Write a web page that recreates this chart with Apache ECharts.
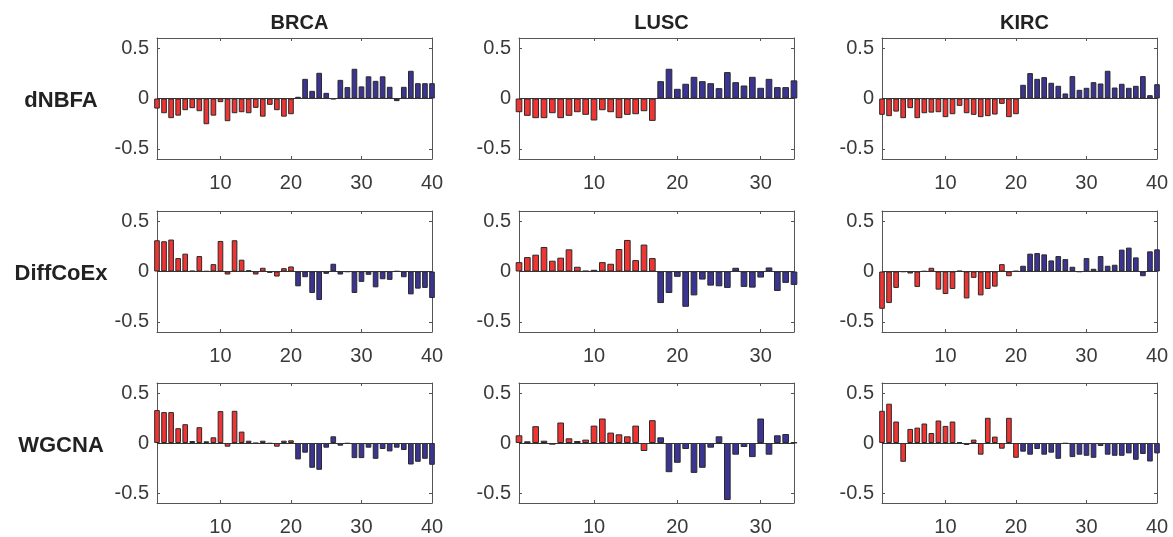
<!DOCTYPE html>
<html>
<head>
<meta charset="utf-8">
<script src="https://cdn.jsdelivr.net/npm/echarts@6/dist/echarts.min.js"></script>
<style>
  html, body { margin: 0; padding: 0; background: #fff; }
  #chart { width: 1173px; height: 537px; }
</style>
</head>
<body>
<div id="chart"></div>
<script>
// columns (datasets) and rows (methods)
const datasets = ['BRCA', 'LUSC', 'KIRC'];
const methods = ['dNBFA', 'DiffCoEx', 'WGCNA'];
const geneCount = [40, 34, 40];
const redCount = [20, 17, 20];
const xTicks = [[10, 20, 30, 40], [10, 20, 30], [10, 20, 30, 40]];
const yTicks = [-0.5, 0, 0.5];

// dNBFA
const brcaDnbfa = [-0.10, -0.146, -0.195, -0.17, -0.116, -0.096, -0.126, -0.255, -0.17, -0.036,
  -0.225, -0.146, -0.136, -0.146, -0.093, -0.18, -0.063, -0.116, -0.18, -0.156,
  0.017, 0.195, 0.076, 0.255, 0.056, -0.007, 0.185, 0.113, 0.295, 0.12,
  0.22, 0.175, 0.22, 0.116, -0.026, 0.116, 0.275, 0.152, 0.152, 0.152];
const luscDnbfa = [-0.136, -0.172, -0.195, -0.195, -0.146, -0.195, -0.172, -0.136, -0.162, -0.218,
  -0.116, -0.136, -0.195, -0.162, -0.156, -0.126, -0.222,
  0.172, 0.295, 0.096, 0.146, 0.215, 0.172, 0.152, 0.103, 0.262,
  0.162, 0.129, 0.215, 0.106, 0.195, 0.113, 0.113, 0.18];
const kircDnbfa = [-0.162, -0.175, -0.13, -0.195, -0.096, -0.195, -0.146, -0.14, -0.136, -0.185,
  -0.156, -0.073, -0.146, -0.162, -0.185, -0.175, -0.159, -0.053, -0.185, -0.156,
  0.136, 0.252, 0.195, 0.212, 0.156, 0.126, 0.05, 0.222, 0.086, 0.106,
  0.162, 0.149, 0.275, 0.109, 0.146, 0.106, 0.126, 0.222, 0.033, 0.142];

// DiffCoEx
const brcaDiffcoex = [0.31, 0.30, 0.317, 0.133, 0.177, 0.007, 0.153, 0.003, 0.073, 0.303,
  -0.03, 0.31, 0.117, 0.013, -0.03, 0.037, -0.013, -0.05, 0.033, 0.05,
  -0.147, -0.057, -0.213, -0.283, -0.023, 0.077, -0.03, -0.003, -0.213, -0.103,
  -0.033, -0.157, -0.077, -0.083, 0.003, -0.057, -0.227, -0.17, -0.163, -0.263];
const luscDiffcoex = [0.093, 0.143, 0.167, 0.243, 0.107, 0.137, 0.22, 0.047, 0.007, 0.017,
  0.093, 0.077, 0.223, 0.313, 0.113, 0.267, 0.133,
  -0.313, -0.213, -0.053, -0.35, -0.237, -0.08, -0.14, -0.147, -0.163,
  0.037, -0.153, -0.16, -0.06, 0.04, -0.193, -0.113, -0.133];
const kircDiffcoex = [-0.37, -0.313, -0.163, -0.003, -0.02, -0.153, 0.003, 0.037, -0.18, -0.223,
  -0.173, 0.007, -0.267, -0.063, -0.237, -0.173, -0.15, 0.073, -0.047, 0.005,
  0.057, 0.177, 0.183, 0.17, 0.11, 0.153, 0.123, 0.047, -0.003, 0.133,
  0.027, 0.153, 0.057, 0.067, 0.217, 0.237, 0.14, -0.047, 0.2, 0.22];

// WGCNA
const brcaWgcna = [0.329, 0.309, 0.309, 0.148, 0.188, 0.02, 0.158, 0.017, 0.057, 0.319,
  -0.037, 0.322, 0.114, 0.023, -0.003, 0.023, -0.007, -0.037, 0.023, 0.027,
  -0.164, -0.097, -0.248, -0.268, -0.047, 0.067, -0.027, -0.007, -0.151, -0.151,
  -0.047, -0.158, -0.06, -0.084, -0.047, -0.07, -0.215, -0.188, -0.158, -0.218];
const luscWgcna = [0.077, 0.017, 0.168, 0.023, -0.017, 0.205, 0.047, 0.02, 0.034, 0.174,
  0.245, 0.104, 0.087, 0.067, 0.174, -0.08, 0.228,
  0.057, -0.292, -0.198, -0.06, -0.299, -0.248, -0.047, 0.067, -0.57,
  -0.117, -0.04, -0.141, 0.245, -0.117, 0.077, 0.09, 0.005];
const kircWgcna = [0.322, 0.393, 0.215, -0.188, 0.141, 0.154, 0.195, 0.1, 0.225, 0.171,
  0.215, 0.007, -0.02, 0.034, -0.117, 0.252, 0.064, -0.057, 0.252, -0.148,
  -0.087, -0.117, -0.06, -0.117, -0.097, -0.158, -0.007, -0.141, -0.117, -0.128,
  -0.148, -0.03, -0.117, -0.128, -0.128, -0.104, -0.168, -0.11, -0.185, -0.104];

const panels = [
  [brcaDnbfa, luscDnbfa, kircDnbfa],
  [brcaDiffcoex, luscDiffcoex, kircDiffcoex],
  [brcaWgcna, luscWgcna, kircWgcna]
];

const RED = '#ef3434';
const BLUE = '#3b3492';
const colLeft = [157, 519, 882];
const rowTop = [38, 211, 383];
const plotW = 275, plotH = 121;
const textColor = '#3a3a3a';
const boxColor = '#555';

const chart = echarts.init(document.getElementById('chart'));

let grid = [], xAxis = [], yAxis = [], series = [], title = [], graphic = [];

datasets.forEach((name, c) => {
  title.push({
    text: name,
    left: colLeft[c] + plotW / 2,
    top: 8,
    textAlign: 'center',
    textStyle: {fontFamily: 'Arial, Liberation Sans', fontSize: 20, fontWeight: 'bold', color: '#222'}
  });
});

methods.forEach((m, r) => {
  graphic.push({
    type: 'text',
    x: 61,
    y: rowTop[r] + plotH / 2 + 2,
    style: {
      text: m,
      align: 'center',
      verticalAlign: 'middle',
      font: 'bold 22px Arial, "Liberation Sans"',
      fill: '#222'
    }
  });
});

for (let r = 0; r < 3; r++) {
  for (let c = 0; c < 3; c++) {
    const g = grid.length;
    grid.push({left: colLeft[c], top: rowTop[r], width: plotW, height: plotH});
    const n = geneCount[c];
    const unit = plotW / (n - 1);
    // bottom & top x axes
    const xBase = {
      type: 'value', gridIndex: g, min: 1, max: n,
      splitLine: {show: false},
      axisLine: {show: true, onZero: false, lineStyle: {color: boxColor, width: 1}},
      axisTick: {show: true, inside: true, length: 3, customValues: xTicks[c], lineStyle: {color: boxColor}}
    };
    xAxis.push(Object.assign({}, xBase, {
      position: 'bottom',
      axisLabel: {show: true, customValues: xTicks[c], margin: 14, fontSize: 20,
        fontFamily: 'Arial, Liberation Sans', color: textColor}
    }));
    xAxis.push(Object.assign({}, xBase, {position: 'top', axisLabel: {show: false}}));
    const yBase = {
      type: 'value', gridIndex: g, min: -0.6, max: 0.6,
      splitLine: {show: false},
      axisLine: {show: true, onZero: false, lineStyle: {color: boxColor, width: 1}},
      axisTick: {show: true, inside: true, length: 3, customValues: yTicks, lineStyle: {color: boxColor}}
    };
    yAxis.push(Object.assign({}, yBase, {
      position: 'left',
      axisLabel: {show: true, customValues: yTicks, margin: 8, fontSize: 20,
        fontFamily: 'Arial, Liberation Sans', color: textColor}
    }));
    yAxis.push(Object.assign({}, yBase, {position: 'right', axisLabel: {show: false}}));

    const vals = panels[r][c];
    series.push({
      type: 'bar',
      xAxisIndex: 2 * g,
      yAxisIndex: 2 * g,
      clip: true,
      barWidth: unit * 0.8,
      data: vals.map((v, i) => ({
        value: [i + 1, v],
        itemStyle: {color: i < redCount[c] ? RED : BLUE}
      })),
      itemStyle: {borderColor: '#2a2a2a', borderWidth: 1},
      markLine: {
        silent: true,
        symbol: 'none',
        label: {show: false},
        lineStyle: {color: '#333', type: 'solid', width: 1},
        data: [{yAxis: 0}]
      },
      animation: false
    });
  }
}

chart.setOption({
  animation: false,
  title: title,
  grid: grid,
  xAxis: xAxis,
  yAxis: yAxis,
  series: series,
  graphic: graphic
});

window.addEventListener('resize', function () {
  chart.resize();
});
</script>
</body>
</html>
